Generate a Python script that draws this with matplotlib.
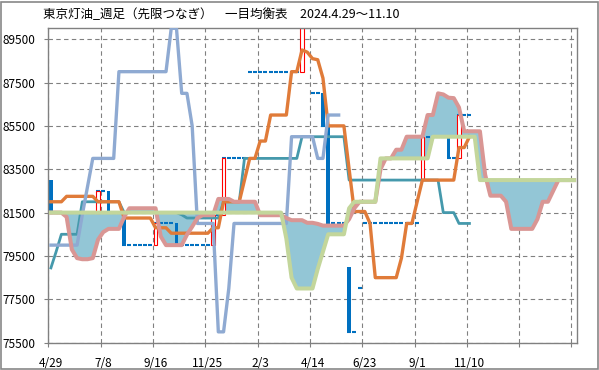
import numpy as np
import matplotlib.pyplot as plt
from matplotlib.patches import Rectangle

plt.rcParams["font.family"] = ["Noto Sans CJK JP", "DejaVu Sans"]

# --- data (weekly, category index 0..100) ---
tick_labels = ["4/29", "7/8", "9/16", "11/25", "2/3", "4/14", "6/23", "9/1", "11/10"]

# candles: week 0..80
open_ = [83000, 81500, 81500, 81500, 81500, 81500, 81500, 81500, 81500, 81500,
         82500, 82500, 81500, 81500, 81300, 80000, 80000, 80000, 80000, 80000,
         80000, 81000, 81000, 81000, 81000, 80000, 80000, 80000, 80000, 80000,
         80000, 80000, 81400, 81400, 84000, 84000, 84000, 84000, 88000, 88000,
         88000, 88000, 88000, 88000, 88000, 88000, 88000, 88000, 88000, 90000,
         87000, 87000, 87000, 85500, 81000, 81000, 81000, 79000, 76000, 78000,
         81000, 81000, 81000, 81000, 81000, 81000, 81000, 81000, 81000, 81000,
         81000, 83000, 85000, 85000, 85000, 85000, 85000, 84000, 84000, 86000,
         86000]
close = [81500, 81500, 81500, 81500, 81500, 81500, 81500, 81500, 81500, 82500,
         82500, 81500, 81500, 81500, 80000, 80000, 80000, 80000, 80000, 80000,
         81000, 81000, 81000, 81000, 80000, 80000, 80000, 80000, 80000, 80000,
         80000, 81400, 81400, 84000, 84000, 84000, 84000, 84000, 88000, 88000,
         88000, 88000, 88000, 88000, 88000, 88000, 88000, 88000, 90000, 90000,
         87000, 87000, 85500, 81000, 81000, 81000, 81000, 76000, 76000, 78000,
         81000, 81000, 81000, 81000, 81000, 81000, 81000, 81000, 81000, 81000,
         81000, 85000, 85000, 85000, 85000, 85000, 84000, 84000, 86000, 86000,
         86000]

# 転換線
conv = [78950, 79700, 80500, 80500, 80500, 80500, 82000, 82000, 82000, 82000,
        82000, 82000, 82000, 82000, 81500, 81500, 81500, 81500, 81500, 81500,
        81500, 81500, 81500, 81500, 81500, 81400, 81250, 81250, 81250, 81250,
        81250, 81250, 81250, 82000, 82000, 82000, 82000, 84000, 84000, 84000,
        84000, 84000, 84000, 84000, 84000, 84000, 84000, 84000, 85000, 85000,
        85000, 85000, 85000, 85000, 85000, 85000, 85000, 83000, 83000, 83000,
        83000, 83000, 83000, 83000, 83000, 83000, 83000, 83000, 83000, 83000,
        83000, 83000, 83000, 83000, 83000, 81500, 81500, 81500, 81000, 81000,
        81000]
# 基準線
base = [82000, 82000, 82000, 82250, 82250, 82250, 82250, 82250, 82250, 82000,
        82000, 82000, 82000, 82000, 81250, 81250, 81250, 81250, 81250, 81250,
        80800, 80800, 80800, 80550, 80550, 80550, 80550, 80550, 80550, 80550,
        80550, 80800, 80800, 82000, 82000, 82000, 82000, 83000, 84000, 84000,
        84800, 84800, 86000, 86000, 86000, 86000, 88000, 88000, 89000, 88900,
        88600, 88550, 87700, 85500, 85500, 85500, 85500, 83500, 81550, 81550,
        81550, 81000, 78500, 78500, 78500, 78500, 78500, 79400, 81000, 81000,
        82000, 83000, 83000, 83000, 83000, 83000, 83000, 83000, 84500, 84500,
        85000]
# 遅行スパン: week 0..55
lagging = [80000, 80000, 80000, 80000, 80000, 80000, 81400, 82700, 84000, 84000,
           84000, 84000, 84000, 88000, 88000, 88000, 88000, 88000, 88000, 88000,
           88000, 88000, 88000, 90000, 90000, 87000, 87000, 85500, 81000, 81000,
           81000, 81000, 76000, 76000, 78000, 81000, 81000, 81000, 81000, 81000,
           81000, 81000, 81000, 81000, 81000, 81000, 85000, 85000, 85000, 85000,
           85000, 84000, 84000, 86000, 86000, 86000]
# 先行スパンA: week 0..100
span_a = [81500, 81500, 81500, 81300, 79800, 79400, 79350, 79350, 79400, 80250,
          80600, 80750, 80750, 80750, 81300, 81700, 81700, 81700, 81700, 81700,
          81700, 80400, 80000, 80000, 80000, 80000, 80480, 80850, 81250, 81380,
          81380, 81380, 82130, 82130, 82130, 82000, 82000, 82000, 82000, 82000,
          81380, 81380, 81380, 81380, 81380, 81250, 81150, 81150, 81150, 81030,
          81030, 80980, 80900, 80900, 80900, 80900, 80900, 81200, 81700, 82000,
          82000, 82000, 82000, 83500, 84000, 84000, 84400, 84400, 85000, 85000,
          85000, 85000, 86000, 86000, 87000, 86950, 86800, 86780, 86350, 85250,
          85250, 85250, 85250, 83250, 82280, 82280, 82280, 82000, 80750, 80750,
          80750, 80750, 80750, 81200, 82000, 82000, 82500, 83000, 83000, 83000,
          83000]
# 先行スパンB: week 0..100
span_b = [81500] * 45 + [80300, 78500, 78000, 78000, 78000, 78000, 78900, 79700,
                         80500, 80500, 80500, 80500, 81700, 82000, 82000, 82000,
                         82000, 82000] + [84000] * 10 + [85000] * 9 + [83000] * 19

weeks = np.arange(len(span_a))
dw = np.arange(len(close))

fig = plt.figure(figsize=(5.99, 3.70), dpi=100)
ax = fig.add_axes([48.3 / 599, 27.3 / 370, 528.4 / 599, 314.4 / 370])

# 雲
ax.fill_between(weeks, span_a, span_b, color="#93C6D6", lw=0, zorder=1)

# 終値マーカー
ax.plot(dw, close, ls="none", marker="_", ms=2.8, mew=1.5, color="#0070C0", zorder=2)

# ローソク足
for i, (o, c) in enumerate(zip(open_, close)):
    if c > o:
        ax.add_patch(Rectangle((i - 0.33, o), 0.66, c - o, facecolor="white",
                               edgecolor="#FF0000", lw=0.8, zorder=2.5))
    elif c < o:
        ax.add_patch(Rectangle((i - 0.35, c), 0.7, o - c, facecolor="#0070C0",
                               edgecolor="none", zorder=2.5))

ax.plot(dw, conv, color="#4599AC", lw=2.0, zorder=3)
ax.plot(dw, base, color="#E07B39", lw=2.4, zorder=3.1)
ax.plot(np.arange(len(lagging)), lagging, color="#8FAAD2", lw=2.4, zorder=3.2)
ax.plot(weeks, span_a, color="#D99694", lw=2.9, zorder=3.3)
ax.plot(weeks, span_b, color="#C3D69B", lw=2.9, zorder=3.4)

ax.set_xlim(-0.5, 100.5)
ax.set_ylim(75500, 90000)

ax.set_yticks(np.arange(75500, 90000, 2000))
ax.set_xticks(np.arange(0, 90, 10))
ax.set_xticklabels(tick_labels)
ax.set_xticks(np.arange(-0.5, 101, 10), minor=True)

ax.tick_params(axis="y", length=3, width=0.8, color="#808080", pad=6, labelsize=8.5)
ax.tick_params(axis="x", which="major", length=0, pad=10, labelsize=8.5)
ax.tick_params(axis="x", which="minor", length=3, width=0.8, color="#808080")

ax.grid(axis="y", which="major", color="#808080", ls=(0, (4, 3)), lw=0.8)
ax.grid(axis="x", which="minor", color="#808080", ls=(0, (4, 3)), lw=0.8)
ax.set_axisbelow(True)
for s in ax.spines.values():
    s.set_color("#808080")
    s.set_linewidth(1)

fig.text(43 / 599, 1 - 15 / 370,
         "東京灯油_週足（先限つなぎ）　一目均衡表　2024.4.29〜11.10",
         ha="left", va="center", fontsize=9.0)

fig.patches.append(Rectangle((0.8 / 599, 1.5 / 370), 597 / 599, 366.5 / 370,
                             transform=fig.transFigure, fill=False,
                             edgecolor="#888888", lw=1.2))

fig.savefig("out.png", dpi=100)
